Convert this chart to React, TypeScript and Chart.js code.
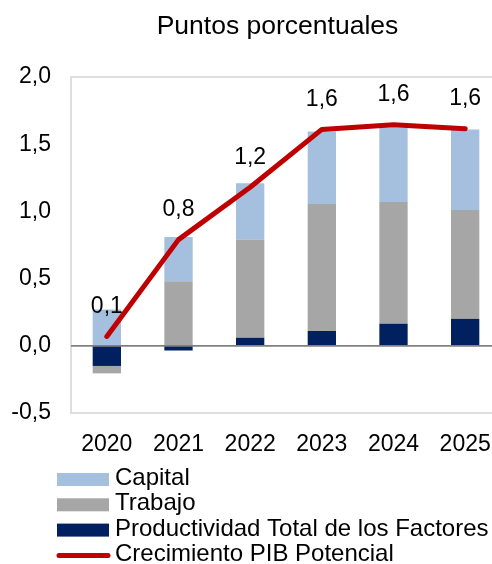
import React, { useEffect, useRef } from "react";
import { Chart, registerables } from "chart.js";

Chart.register(...registerables);

// ---- Data ----
const categories = ["2020", "2021", "2022", "2023", "2024", "2025"];
const capital = [0.27, 0.33, 0.42, 0.54, 0.555, 0.6];
const trabajo = [-0.055, 0.48, 0.73, 0.945, 0.905, 0.81];
const ptf = [-0.15, -0.035, 0.06, 0.11, 0.165, 0.2];
const pibPotencial = [0.07, 0.79, 1.18, 1.61, 1.645, 1.615];
const yMin = -0.5;
const yMax = 2.0;
const yStep = 0.5;
const titleText = "Puntos porcentuales";
const seriesLabels = {
  capital: "Capital",
  trabajo: "Trabajo",
  ptf: "Productividad Total de los Factores",
  pib: "Crecimiento PIB Potencial",
};

// ---- Styles ----
const FONT = "'Liberation Sans', Arial, Helvetica, sans-serif";
const COLORS = {
  capital: "#A5BFDF",
  trabajo: "#A6A6A6",
  ptf: "#002060",
  pib: "#C00000",
  frame: "#D3D3D3",
  zero: "#808080",
};

const fmt = (v: number) => v.toFixed(1).replace(".", ",");

const overlayPlugin = {
  id: "overlay",
  beforeDatasetsDraw(chart: any) {
    // plot-area frame
    const { ctx, chartArea } = chart;
    ctx.save();
    ctx.strokeStyle = COLORS.frame;
    ctx.lineWidth = 1.5;
    ctx.strokeRect(chartArea.left, chartArea.top, chartArea.right - chartArea.left, chartArea.bottom - chartArea.top);
    ctx.restore();
  },
  afterDatasetsDraw(chart: any) {
    const ctx = chart.ctx;
    // zero line on top of bars
    const yScale = chart.scales.y;
    const y0 = yScale.getPixelForValue(0);
    ctx.save();
    ctx.strokeStyle = COLORS.zero;
    ctx.lineWidth = 1.8;
    ctx.beginPath();
    ctx.moveTo(chart.chartArea.left, y0);
    ctx.lineTo(chart.chartArea.right, y0);
    ctx.stroke();
    ctx.restore();

    // line data labels
    const meta = chart.getDatasetMeta(0);
    const values = chart.data.datasets[0].data as number[];
    ctx.save();
    ctx.font = `23px ${FONT}`;
    ctx.fillStyle = "#000";
    ctx.textAlign = "center";
    ctx.textBaseline = "middle";
    meta.data.forEach((pt: any, i: number) => {
      ctx.fillText(fmt(values[i]), pt.x, pt.y - 30);
    });
    ctx.restore();
  },
  afterDraw(chart: any) {
    const ctx = chart.ctx;
    ctx.save();
    // title
    ctx.font = `26.5px ${FONT}`;
    ctx.fillStyle = "#000";
    ctx.textAlign = "center";
    ctx.textBaseline = "alphabetic";
    ctx.fillText(titleText, 277.5, 34);

    // legend (vertical list)
    const order = [3, 2, 1, 0];
    ctx.font = `24px ${FONT}`;
    ctx.textAlign = "left";
    ctx.textBaseline = "middle";
    order.forEach((dsIndex, row) => {
      const ds = chart.data.datasets[dsIndex];
      const yc = 479.5 + row * 25.3;
      if (ds.type === "line") {
        ctx.strokeStyle = ds.borderColor;
        ctx.lineWidth = 5;
        ctx.lineCap = "round";
        ctx.beginPath();
        ctx.moveTo(59, yc);
        ctx.lineTo(108, yc);
        ctx.stroke();
      } else {
        ctx.fillStyle = ds.backgroundColor;
        ctx.fillRect(57, yc - 6.5, 52, 13);
      }
      ctx.fillStyle = "#000";
      ctx.fillText(ds.label, 115, yc - 1);
    });
    ctx.restore();
  },
};

export default function App() {
  const canvasRef = useRef<HTMLCanvasElement | null>(null);

  useEffect(() => {
    if (!canvasRef.current) return;
    const chart = new Chart(canvasRef.current, {
      type: "bar",
      data: {
        labels: categories,
        datasets: [
          {
            type: "line",
            label: seriesLabels.pib,
            data: pibPotencial,
            borderColor: COLORS.pib,
            backgroundColor: COLORS.pib,
            borderWidth: 5,
            borderCapStyle: "round",
            borderJoinStyle: "round",
            pointRadius: 0,
            tension: 0,
            fill: false,
            order: 0,
            stack: "line",
          } as any,
          {
            type: "bar",
            label: seriesLabels.ptf,
            data: ptf,
            backgroundColor: COLORS.ptf,
            order: 1,
            stack: "bars",
          },
          {
            type: "bar",
            label: seriesLabels.trabajo,
            data: trabajo,
            backgroundColor: COLORS.trabajo,
            order: 1,
            stack: "bars",
          },
          {
            type: "bar",
            label: seriesLabels.capital,
            data: capital,
            backgroundColor: COLORS.capital,
            order: 1,
            stack: "bars",
          },
        ],
      },
      options: {
        animation: false,
        responsive: false,
        devicePixelRatio: 1,
        layout: { padding: { top: 77, left: 0, right: 0, bottom: 0 } },
        datasets: {
          bar: { barPercentage: 0.395, categoryPercentage: 1 },
        },
        plugins: {
          legend: { display: false },
          title: { display: false },
          tooltip: { enabled: false },
        },
        scales: {
          x: {
            stacked: true,
            grid: { display: false },
            border: { display: false },
            ticks: {
              color: "#000",
              font: { family: FONT, size: 23 },
              padding: 10,
              maxRotation: 0,
              autoSkip: false,
            },
            afterFit: (s: any) => {
              s.height = 151;
            },
          },
          y: {
            stacked: true,
            min: yMin,
            max: yMax,
            ticks: {
              stepSize: yStep,
              color: "#000",
              font: { family: FONT, size: 23 },
              padding: 20,
              callback: (v: any) => fmt(Number(v)),
            },
            grid: { display: false, drawTicks: false },
            border: { display: false },
            afterFit: (s: any) => {
              s.width = 71;
            },
          },
        },
      },
      plugins: [overlayPlugin],
    });
    return () => chart.destroy();
  }, []);

  return (
    <div
      style={{
        position: "absolute",
        left: 0,
        top: 0,
        width: 492,
        height: 564,
        overflow: "hidden",
        background: "#fff",
      }}
    >
      <canvas ref={canvasRef} width={501} height={564} style={{ display: "block" }} />
    </div>
  );
}
